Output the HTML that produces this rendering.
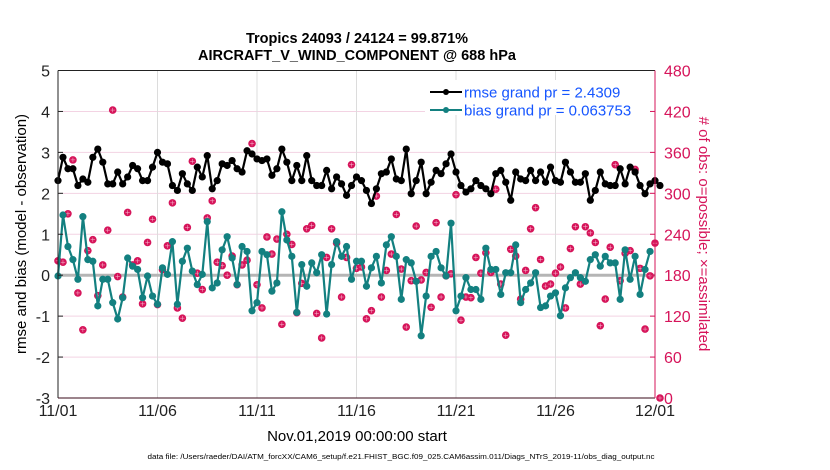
<!DOCTYPE html>
<html><head><meta charset="utf-8"><style>
body{margin:0;background:#fff;}
svg{display:block;font-family:"Liberation Sans",Arial,sans-serif;}
</style></head><body>
<svg id="chart" width="830" height="470" viewBox="0 0 830 470">
<rect width="830" height="470" fill="#fff"/>
<g id="grid"></g>
<g id="marks"></g>
<g id="axes"></g>
<text x="357" y="43" text-anchor="middle" font-size="14.5" font-weight="bold">Tropics 24093 / 24124 = 99.871%</text>
<text x="357" y="60" text-anchor="middle" font-size="14.5" font-weight="bold">AIRCRAFT_V_WIND_COMPONENT @ 688 hPa</text>
<text transform="translate(26,234) rotate(-90)" text-anchor="middle" font-size="15">rmse and bias (model - observation)</text>
<text transform="translate(699,234) rotate(90)" text-anchor="middle" font-size="15" fill="#d6145a"># of obs: o=possible; ×=assimilated</text>
<text x="357" y="441" text-anchor="middle" font-size="15">Nov.01,2019 00:00:00 start</text>
<text x="401" y="459" text-anchor="middle" font-size="7.5" textLength="507" lengthAdjust="spacingAndGlyphs">data file: /Users/raeder/DAI/ATM_forcXX/CAM6_setup/f.e21.FHIST_BGC.f09_025.CAM6assim.011/Diags_NTrS_2019-11/obs_diag_output.nc</text>
<g>
<rect x="425" y="80" width="225" height="35" fill="#fff"/>
<line x1="430" y1="92" x2="462" y2="92" stroke="#000" stroke-width="2"/>
<circle cx="446" cy="92" r="3" fill="#000"/>
<text x="464" y="97.5" font-size="15" fill="#1555ff">rmse grand pr = 2.4309</text>
<line x1="430" y1="110" x2="462" y2="110" stroke="#138080" stroke-width="2"/>
<circle cx="446" cy="110" r="3" fill="#138080"/>
<text x="464" y="115.5" font-size="15" fill="#1555ff">bias grand pr = 0.063753</text>
</g>
</svg>
<script>
const xTickLabels=["11/01","11/06","11/11","11/16","11/21","11/26","12/01"];
const yLeftTicks=[5,4,3,2,1,0,-1,-2,-3];
const yRightTicks=[480,420,360,300,240,180,120,60,0];
const rmse=[2.31,2.88,2.6,2.6,2.19,2.35,2.27,2.88,3.08,2.76,2.23,2.23,2.52,2.23,2.4,2.68,2.6,2.31,2.31,2.64,3.0,2.76,2.72,2.19,2.07,2.48,2.23,2.07,2.64,2.4,2.92,2.11,2.31,2.72,2.68,2.8,2.6,2.52,3.04,2.96,2.84,2.8,2.84,2.44,2.6,3.08,2.76,2.31,2.68,2.31,2.92,2.31,2.19,2.19,2.56,2.11,2.4,2.23,1.95,2.19,2.4,
2.31,2.07,1.75,2.11,2.48,2.52,2.84,2.35,2.31,3.08,1.99,2.31,2.76,1.99,2.27,2.56,2.48,2.72,2.96,2.52,2.19,2.03,2.11,2.31,2.19,2.11,1.99,2.48,2.56,2.27,1.83,2.52,2.35,2.31,2.56,2.31,2.52,2.27,2.64,2.31,2.27,2.76,2.52,2.27,2.27,2.48,1.83,2.07,2.52,2.23,2.19,2.19,2.6,2.23,2.64,2.52,2.19,1.99,2.23,2.31,2.19];
const bias=[-0.02,1.47,0.70,0.38,-0.10,1.43,0.38,0.34,-0.75,-0.10,-0.10,-0.67,-1.07,-0.55,0.42,0.22,0.14,-0.55,-0.02,-0.51,-0.71,0.18,0.02,0.82,-0.71,0.34,0.66,0.10,-0.23,0.02,1.31,-0.31,-0.19,0.62,0.94,0.42,-0.23,0.70,0.58,-0.87,-0.67,0.58,0.50,-0.39,-0.19,1.55,0.86,0.46,-0.91,0.26,-0.27,0.30,0.06,0.50,-0.95,0.26,0.82,0.46,0.70,-0.10,0.34,
0.34,-0.27,0.18,0.46,-0.19,0.74,0.94,0.46,-0.59,0.38,0.30,-0.15,-1.48,-0.51,0.46,0.58,0.18,-0.02,1.27,-0.87,-0.51,-0.06,-0.35,-0.35,-0.59,0.66,0.14,0.14,-0.47,0.06,0.06,0.74,-0.67,-0.35,-0.19,0.06,-0.79,-0.75,-0.51,-0.43,-0.99,-0.31,-0.06,0.06,-0.06,-0.15,0.38,0.50,0.22,0.46,0.30,0.30,-0.59,0.62,-0.10,0.46,-0.47,0.14,0.58];
const obsCount=[201,199,270,349,154,100,216,232,150,195,246,422,178,148,272,195,201,138,228,262,137,188,223,286,132,117,250,347,183,159,264,289,199,194,180,208,166,195,202,373,166,132,236,211,233,108,240,225,125,168,248,253,124,88,206,248,227,148,206,342,190,
192,116,128,296,148,187,211,269,189,104,172,252,173,184,133,257,148,179,182,298,114,148,147,206,183,213,184,306,167,92,218,208,145,187,248,279,203,164,167,183,192,132,219,251,167,251,242,228,106,145,221,342,172,212,216,335,190,101,179,227,0];
const X0=58,X1=655,Y0=70.5,Y1=398,NDAYS=30,STEPS_PER_DAY=4;
const xs=i=>X0+(i/STEPS_PER_DAY)*(X1-X0)/NDAYS;
const yL=v=>Y1-(v+3)*(Y1-Y0)/8;
const yR=v=>Y1-v*(Y1-Y0)/480;
const NS="http://www.w3.org/2000/svg";
function mk(tag,attrs,parent){const e=document.createElementNS(NS,tag);for(const k in attrs)e.setAttribute(k,attrs[k]);parent.appendChild(e);return e;}
const grid=document.getElementById('grid'),marks=document.getElementById('marks'),axes=document.getElementById('axes');
yLeftTicks.forEach(v=>{
 const y=yL(v);
 if(v!==5&&v!==-3){const g=mk('line',{x1:X0,x2:X1,y1:y,y2:y,stroke:'#f3d3e3','stroke-width':1},grid);
 
 }
 const t=mk('text',{x:X0-8,y:y+6,'text-anchor':'end','font-size':16,fill:'#222'},axes);t.textContent=v;
 
 
 mk('line',{x1:X0,x2:X0+5,y1:y,y2:y,stroke:'#222'},axes);
});
yRightTicks.forEach(v=>{
 const y=yR(v);
 const t=mk('text',{x:X1+9,y:y+6,'font-size':16,fill:'#d6145a'},axes);t.textContent=v;
 
 
 mk('line',{x1:X1-5,x2:X1,y1:y,y2:y,stroke:'#d6145a'},axes);
});
xTickLabels.forEach((lab,k)=>{
 const x=X0+k*5*(X1-X0)/NDAYS;
 if(k>0&&k<6){const g=mk('line',{x1:x,x2:x,y1:Y0,y2:Y1,stroke:'#dcdcdc'},grid);
 
 }
 const t=mk('text',{x:x,y:416,'text-anchor':'middle','font-size':16,fill:'#222'},axes);t.textContent=lab;
 
 
});
const zl=mk('line',{x1:X0,x2:X1,y1:yL(0),y2:yL(0),stroke:'#b5b5b5','stroke-width':3},grid);


mk('line',{x1:X0,x2:X0,y1:Y0,y2:Y1,stroke:'#222'},axes);
mk('line',{x1:X0,x2:X1,y1:Y0,y2:Y0,stroke:'#222'},axes);
mk('line',{x1:X0,x2:X1,y1:Y1,y2:Y1,stroke:'#3a0a1a'},axes);
mk('line',{x1:X1,x2:X1,y1:Y0,y2:Y1,stroke:'#d6145a'},axes);
obsCount.forEach((c,i)=>{
 const x=xs(i),y=yR(c);
 const g=mk('g',{},marks);
 
 
 mk('circle',{cx:x,cy:y,r:3.8,fill:'#d6145a'},g);
 mk('path',{d:`M${x-2.2} ${y}H${x+2.2}M${x} ${y-2.2}V${y+2.2}`,stroke:'#f7c0d4','stroke-width':0.5},g);
});
function series(arr,color,name,r){
 const d=arr.map((v,i)=>(i?'L':'M')+xs(i).toFixed(1)+' '+yL(v).toFixed(1)).join('');
 const p=mk('path',{d:d,fill:'none',stroke:color,'stroke-width':2.2,'stroke-linejoin':'round'},marks);
 
 
 arr.forEach((v,i)=>{const c=mk('circle',{cx:xs(i),cy:yL(v),r:r,fill:color},marks);
 
 });
}
series(rmse,'#000','rmse',3.6);
series(bias,'#138080','bias',3.6);
</script>
</body></html>
